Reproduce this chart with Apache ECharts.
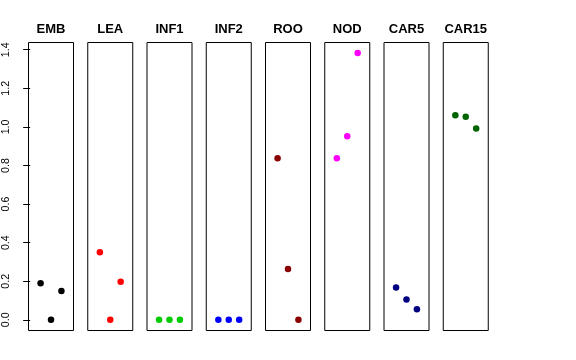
<!DOCTYPE html>
<html>
<head>
<meta charset="utf-8">
<script src="https://cdn.jsdelivr.net/npm/echarts@6/dist/echarts.min.js"></script>
<style>
html,body{margin:0;padding:0;background:#fff;}
#chart{width:576px;height:360px;}
</style>
</head>
<body>
<div id="chart"></div>
<script>
// ---- data ----
const categories = ['EMB', 'LEA', 'INF1', 'INF2', 'ROO', 'NOD', 'CAR5', 'CAR15'];
const xPositions = [1, 2, 3];
const EMB = [0.19, 0.00, 0.15];
const LEA = [0.35, 0.00, 0.197];
const INF1 = [0.00, 0.00, 0.00];
const INF2 = [0.00, 0.00, 0.00];
const ROO = [0.838, 0.263, 0.00];
const NOD = [0.837, 0.952, 1.383];
const CAR5 = [0.168, 0.106, 0.055];
const CAR15 = [1.061, 1.052, 0.992];
const seriesValues = [EMB, LEA, INF1, INF2, ROO, NOD, CAR5, CAR15];
const colors = ['#000000', '#FF0000', '#00CD00', '#0000FF', '#8B0000', '#FF00FF', '#000080', '#006400'];
const yTicks = [0, 0.2, 0.4, 0.6, 0.8, 1.0, 1.2, 1.4];

// ---- layout ----
const font = '"Liberation Sans", Arial, Helvetica, sans-serif';
const panelLeft0 = 28.5, panelStep = 59.25, panelWidth = 45;
const gridTop = 42.5, gridHeight = 288;
const yMin = -0.0553, yMax = 1.4375;
const xMin = -0.16, xMax = 4.16;

const grids = [], xAxes = [], yAxes = [], series = [], titles = [];
categories.forEach((cat, i) => {
  const left = panelLeft0 + i * panelStep;
  grids.push({left: left, top: gridTop, width: panelWidth, height: gridHeight,
    show: true, borderColor: '#000', borderWidth: 1, backgroundColor: 'transparent'});
  xAxes.push({gridIndex: i, type: 'value', min: xMin, max: xMax, show: false});
  const isFirst = i === 0;
  yAxes.push({gridIndex: i, type: 'value', min: yMin, max: yMax,
    show: isFirst,
    axisLine: {show: false},
    splitLine: {show: false},
    axisTick: {show: isFirst, inside: false, length: 7, lineStyle: {color: '#000', width: 1}, customValues: yTicks},
    axisLabel: {show: isFirst, rotate: 90, margin: 17, color: '#000', fontSize: 10.67, fontFamily: font,
      customValues: yTicks, formatter: v => Number(v).toFixed(1)}
  });
  series.push({type: 'scatter', xAxisIndex: i, yAxisIndex: i, symbol: 'circle', symbolSize: 6.5,
    itemStyle: {color: colors[i], opacity: 1},
    data: xPositions.map((x, k) => [x, seriesValues[i][k]]),
    silent: true, animation: false});
  titles.push({text: cat, left: left + panelWidth / 2, top: 23, textAlign: 'center',
    textStyle: {fontFamily: font, fontSize: 13, fontWeight: 'bold', color: '#000'}, padding: 0});
});

const chart = echarts.init(document.getElementById('chart'), null, {renderer: 'canvas'});
chart.setOption({
  animation: false,
  backgroundColor: '#fff',
  title: titles,
  grid: grids,
  xAxis: xAxes,
  yAxis: yAxes,
  series: series
});
</script>
</body>
</html>
